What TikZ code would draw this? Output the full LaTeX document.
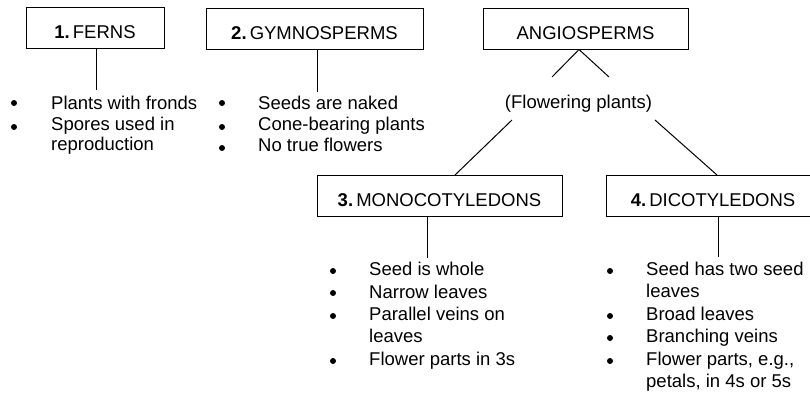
\documentclass[tikz,border=0pt]{standalone}
\usepackage{fontspec}
\setmainfont{Liberation Sans}
\begin{document}
\begin{tikzpicture}[x=1pt,y=-1pt,
  txt/.style={font=\fontsize{18.5}{21}\selectfont},
  box/.style={txt,draw,line width=1pt,rectangle,inner sep=0pt,minimum height=41pt,
              text height=21pt,text depth=0pt},
  item/.style={txt,anchor=base west,inner sep=0pt},
  conn/.style={line width=1pt},
  dot/.style={fill=black}]
\useasboundingbox (0,0) rectangle (810,396);
\fill[white] (0,0) rectangle (810,396);
\clip (0,0) rectangle (810,396);

% boxes
\node[box,minimum width=138pt] (ferns) at (95,28.5) {\textbf{1.}\,FERNS};
\node[box,minimum width=217pt] (gymno) at (314.5,29) {\textbf{2.}\,GYMNOSPERMS};
\node[box,minimum width=205pt] (angio) at (585.5,29) {ANGIOSPERMS};
\node[box,minimum width=245pt] (mono) at (439.5,195.5) {\textbf{3.}\,MONOCOTYLEDONS};
\node[box,minimum width=214pt] (dico) at (713,195.5) {\textbf{4.}\,DICOTYLEDONS};

\node[txt,inner sep=0pt,anchor=base] (flow) at (578.5,108) {(Flowering plants)};

% connector end points
\coordinate (fe) at (96,90);
\coordinate (ge) at (317,92);
\coordinate (apex) at (579,49.5);
\coordinate (al) at (552,77);
\coordinate (ar) at (609,77);
\coordinate (fl) at (512,120);
\coordinate (fr) at (655,120);
\coordinate (mt) at (455,175);
\coordinate (dt) at (717,175);
\coordinate (ms) at (427,216);
\coordinate (me) at (427,258);
\coordinate (ds) at (718,216);
\coordinate (de) at (718,257);

\draw[conn] (ferns.south -| fe) -- (fe);
\draw[conn] (gymno.south -| ge) -- (ge);
\draw[conn] (apex) -- (al);
\draw[conn] (apex) -- (ar);
\draw[conn] (fl) -- (mt);
\draw[conn] (fr) -- (dt);
\draw[conn] (ms) -- (me);
\draw[conn] (ds) -- (de);

% ferns list
\fill[dot] (14,103) circle (3);
\fill[dot] (14,127) circle (3);
\node[item] (f1) at (51,109) {Plants with fronds};
\node[item] (f2) at (51,130) {Spores used in};
\node[item] (f3) at (51,150) {reproduction};

% gymnosperms list
\fill[dot] (222,103) circle (3);
\fill[dot] (222,127) circle (3);
\fill[dot] (222,148) circle (3);
\node[item] (g1) at (258,109) {Seeds are naked};
\node[item] (g2) at (258,130) {Cone-bearing plants};
\node[item] (g3) at (258,151) {No true flowers};

% monocot list
\fill[dot] (333,271) circle (3);
\fill[dot] (333,293) circle (3);
\fill[dot] (333,316) circle (3);
\fill[dot] (333,361) circle (3);
\node[item] (m1) at (369,275) {Seed is whole};
\node[item] (m2) at (369,298) {Narrow leaves};
\node[item] (m3) at (369,320) {Parallel veins on};
\node[item] (m4) at (369,342) {leaves};
\node[item] (m5) at (369,365) {Flower parts in 3s};

% dicot list
\fill[dot] (610,271) circle (3);
\fill[dot] (610,316) circle (3);
\fill[dot] (610,338) circle (3);
\fill[dot] (610,361) circle (3);
\node[item] (d1) at (646,275) {Seed has two seed};
\node[item] (d2) at (646,297) {leaves};
\node[item] (d3) at (646,320) {Broad leaves};
\node[item] (d4) at (646,342) {Branching veins};
\node[item] (d5) at (646,365) {Flower parts, e.g.,};
\node[item] (d6) at (646,387) {petals, in 4s or 5s};
\end{tikzpicture}
\end{document}
